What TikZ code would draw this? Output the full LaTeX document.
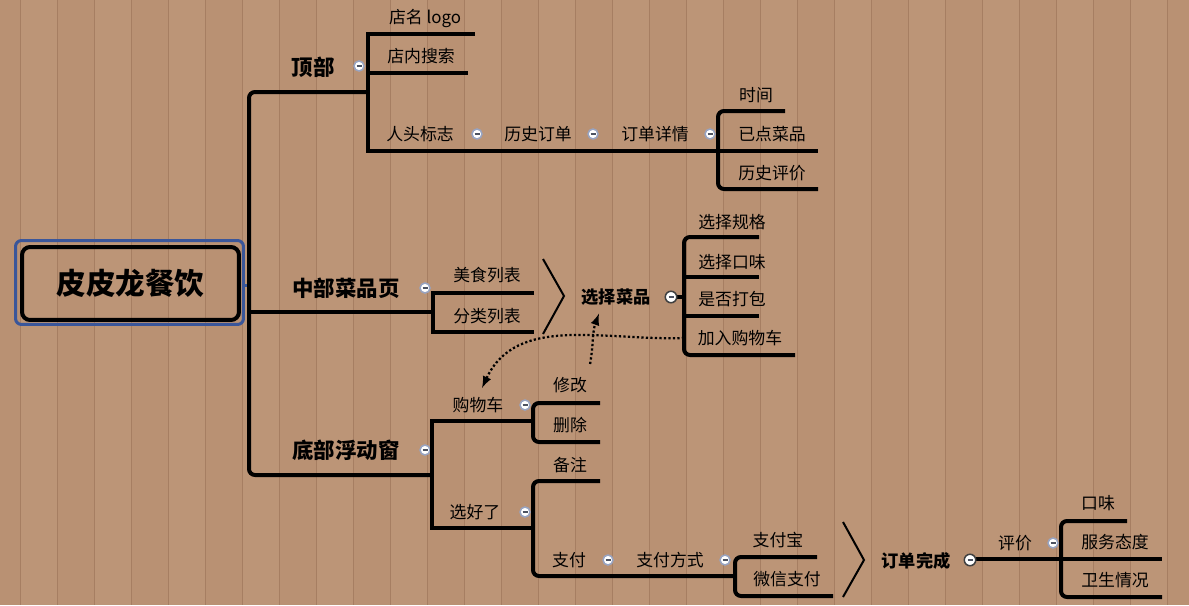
\documentclass[tikz,border=0pt]{standalone}
\usepackage{fontspec}
\setmainfont{Noto Sans CJK SC}
\usepackage{xcolor}
\usetikzlibrary{calc,positioning}
\definecolor{wood}{HTML}{B99173}
\definecolor{woodl}{HTML}{BC9577}
\definecolor{woodd}{HTML}{A67E62}
\definecolor{frame}{HTML}{3A569A}
\definecolor{foldl}{HTML}{98A4C2}
\tikzset{
  root/.style = {draw,line width=0.8mm,rounded corners=1.6mm,minimum width=43.4mm,minimum height=14.6mm,font=\fontsize{16.8}{20}\selectfont\bfseries},
  rootframe/.style = {draw=frame,line width=0.6mm,rounded corners=1.2mm,minimum width=45.6mm,minimum height=16.8mm},
  topic/.style = {font=\fontsize{12.2}{14}\selectfont\bfseries},
  sub/.style = {font=\fontsize{9.8}{12}\selectfont\bfseries},
  leaf/.style = {font=\fontsize{9.6}{12}\selectfont},
  fold/.style = {circle,draw=foldl,fill=white,line width=0.3mm,inner sep=0pt,minimum size=2mm,
    path picture={\draw[line width=0.25mm,foldl!50!black] ([xshift=-0.5mm]path picture bounding box.center) -- ([xshift=0.5mm]path picture bounding box.center);}},
  foldd/.style = {fold,draw=black!75,minimum size=2.3mm},
  br/.style = {line width=0.8mm,rounded corners=1.2mm},
  sq/.style = {line width=0.8mm},
  chev/.style = {line width=0.4mm},
  link/.style = {->,> = latex,dash pattern=on 0.45mm off 0.45mm,line width=0.45mm}
}

\begin{document}
\begin{tikzpicture}[x=0.02cm,y=-0.02cm]
\useasboundingbox (0,0) rectangle (1189,605);
\fill[wood] (0,0) rectangle (1189,605);
\foreach \i in {0,2,...,32}
  \fill[woodl] (\i*37+20,0) rectangle (\i*37+57,605);
\foreach \i in {0,...,32}
  \draw[woodd,line width=0.2mm] (\i*37+20,0) -- (\i*37+20,605);

% root
\node[rootframe] (rootf) at (129.5,282.5) {};
\node[root] (root) at (130.5,283.5) {皮皮龙餐饮};
\coordinate (t0) at (249,285);
\draw[frame,line width=0.6mm] (rootf.east |- t0) -- (t0);

\coordinate (b1) at (368,92);
\coordinate (b2) at (433,312);
\coordinate (b3) at (432,475);
\draw[br] (b1) -| (t0) |- (b3);
\draw[br] (t0 |- b2) -- (b2);

% top
\node[topic] (top) at (313,67) {顶部};
\node[fold] (topf) at (359,66) {};
\node[leaf] (logo) at (425,18) {店名 logo};
\node[leaf] (search) at (421,56) {店内搜索};
\coordinate (logoE) at (475,34);
\coordinate (searchE) at (468,73);
\coordinate (b4) at (718,151);
\draw[sq] (logoE) -| (b1) |- (b4);
\draw[sq] (b1 |- searchE) -- (searchE);
\node[leaf] (head) at (420,134) {人头标志};
\node[fold] (headf) at (477,134) {};
\node[leaf] (hist) at (538,134) {历史订单};
\node[fold] (histf) at (593,134) {};
\node[leaf] (detail) at (655,134) {订单详情};
\node[fold] (detailf) at (710,134) {};

\node[leaf] (time) at (756,95) {时间};
\node[leaf] (dish) at (772,134) {已点菜品};
\node[leaf] (review) at (772,173) {历史评价};
\coordinate (timeE) at (785,111);
\coordinate (dishE) at (818,151);
\coordinate (reviewE) at (818,189);
\draw[br] (timeE) -| (b4) |- (reviewE);
\draw[br] (b4) -- (dishE);

% middle
\node[topic] (mid) at (346,288) {中部菜品页};
\node[fold] (midf) at (425,288) {};
\node[leaf] (food) at (487,275) {美食列表};
\node[leaf] (cat) at (487,316) {分类列表};
\coordinate (foodE) at (534,293);
\coordinate (catE) at (534,332);
\draw[sq] (foodE) -| (b2) |- (catE);
\draw[chev] (543,259) -- (564,296) -- (543,334);

\node[sub] (pick) at (616,297) {选择菜品};
\coordinate (b5) at (684,297);
\draw[sq] (671,297) -- (b5);
\node[foldd] (pickf) at (671,297) {};
\node[leaf] (spec) at (732,222) {选择规格};
\node[leaf] (flav) at (732,262) {选择口味};
\node[leaf] (pack) at (732,299) {是否打包};
\node[leaf] (add) at (740,338) {加入购物车};
\coordinate (specE) at (759,237);
\coordinate (flavE) at (759,277);
\coordinate (packE) at (759,316);
\coordinate (addE) at (795,355);
\draw[br] (specE) -| (b5) |- (addE);
\draw[br] (b5 |- flavE) -- (flavE);
\draw[br] (b5 |- packE) -- (packE);

% bottom
\node[topic] (bot) at (346,450) {底部浮动窗};
\node[fold] (botf) at (425,450) {};
\node[leaf] (cart) at (478,405) {购物车};
\node[fold] (cartf) at (525,405) {};
\node[leaf] (done) at (475,512) {选好了};
\node[fold] (donef) at (525,512) {};
\coordinate (b6) at (533,421);
\coordinate (b7) at (533,528);
\draw[sq] (b6) -| (b3) |- (b7);

\node[leaf] (edit) at (570,385) {修改};
\node[leaf] (del) at (570,425) {删除};
\coordinate (editE) at (600,403);
\coordinate (delE) at (600,442);
\draw[br] (editE) -| (b6) |- (delE);

\node[leaf] (note) at (570,465) {备注};
\node[leaf] (pay) at (569,560) {支付};
\node[fold] (payf) at (608,560) {};
\node[leaf] (way) at (670,560) {支付方式};
\node[fold] (wayf) at (725,560) {};
\coordinate (noteE) at (600,481);
\coordinate (b8) at (735,576);
\draw[br] (noteE) -| (b7) |- (b8);

\node[leaf] (ali) at (778,540) {支付宝};
\node[leaf] (wx) at (787,579) {微信支付};
\coordinate (aliE) at (817,557);
\coordinate (wxE) at (833,596);
\draw[br] (aliE) -| (b8) |- (wxE);
\draw[chev] (843,522) -- (864,560) -- (843,597);

\node[sub] (fin) at (916,561) {订单完成};
\coordinate (b9) at (1061,559);
\draw[sq] (970,559) -- (b9);
\node[foldd] (finf) at (970,560) {};
\node[leaf] (eval) at (1015,543) {评价};
\node[fold] (evalf) at (1053,543) {};
\node[leaf] (mouth) at (1098,503) {口味};
\node[leaf] (serv) at (1115,542) {服务态度};
\node[leaf] (hyg) at (1115,580) {卫生情况};
\coordinate (mouthE) at (1127,521);
\coordinate (servE) at (1162,559);
\coordinate (hygE) at (1162,597);
\draw[br] (mouthE) -| (b9) |- (hygE);
\draw[br] (b9) -- (servE);

% links
\draw[link] (b5 |- add) to[out=182,in=65] ([xshift=0.8mm,yshift=0.6mm]cart.north);
\draw[link] ([xshift=-0.6mm,yshift=1.4mm]edit.north east) to[out=80,in=-110] ([xshift=-3.4mm,yshift=-0.4mm]pick.south);
\end{tikzpicture}
\end{document}
